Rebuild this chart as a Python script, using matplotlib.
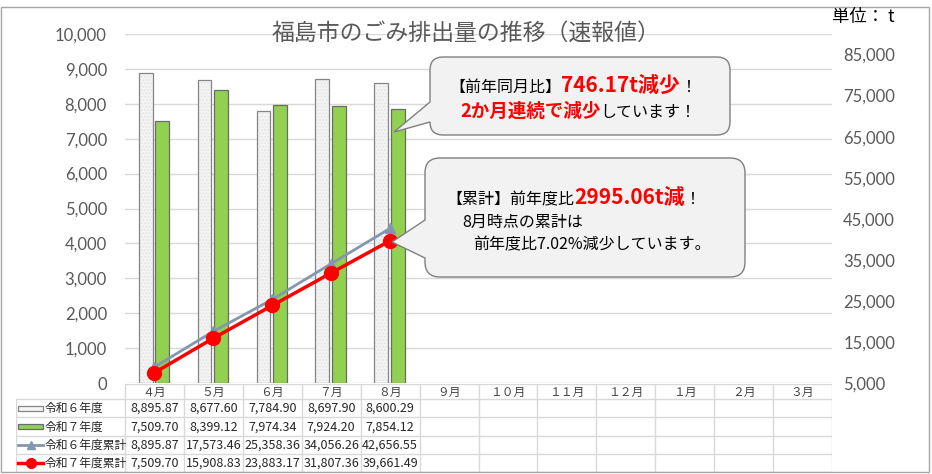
import matplotlib
matplotlib.use('Agg')
import matplotlib.pyplot as plt
import numpy as np
from matplotlib.path import Path
from matplotlib.patches import PathPatch, Rectangle
from matplotlib.lines import Line2D

plt.rcParams['font.family'] = ['Noto Sans CJK JP', 'DejaVu Sans']

# ---------------- data ----------------
months = ['４月', '５月', '６月', '７月', '８月', '９月', '１０月', '１１月', '１２月', '１月', '２月', '３月']
series_names = ['令和６年度', '令和７年度', '令和６年度累計', '令和７年度累計']
r6 = [8895.87, 8677.60, 7784.90, 8697.90, 8600.29]
r7 = [7509.70, 8399.12, 7974.34, 7924.20, 7854.12]
r6_cum = [8895.87, 17573.46, 25358.36, 34056.26, 42656.55]
r7_cum = [7509.70, 15908.83, 23883.17, 31807.36, 39661.49]
left_ticks = list(range(0, 10001, 1000))
right_ticks = list(range(5000, 85001, 10000))
title = '福島市のごみ排出量の推移（速報値）'
unit_label = '単位： t'

W, H = 932, 474
fig = plt.figure(figsize=(W / 100, H / 100), dpi=100)


def fx(px):
    return px / W


def fy(py):
    return 1 - py / H


# ---------------- main axes ----------------
L, R, T, B = 125, 832, 34, 383
colw = (R - L) / 12.0
ax = fig.add_axes([fx(L), fy(B), (R - L) / W, (B - T) / H])
ax.set_xlim(-0.5, 11.5)
ax.set_ylim(0, 10000)
ax.set_yticks(left_ticks)
ax.set_yticklabels([f'{v:,}' for v in left_ticks], fontfamily=['Lato', 'DejaVu Sans'],
                   fontsize=12, color='#595959')
ax.tick_params(axis='y', length=0, pad=13)
ax.set_xticks([])
for s in ax.spines.values():
    s.set_visible(False)
ax.grid(axis='y', color='#d9d9d9', lw=1)
ax.set_axisbelow(True)

x = np.arange(len(r6))
bw = 0.235
ax.bar(x - 0.15, r6, width=bw, color='#f4f4f4', edgecolor='#e6e6e6', lw=0, hatch='.....', zorder=2)
ax.bar(x - 0.15, r6, width=bw, color='none', edgecolor='#858585', lw=0.9, zorder=3)
ax.bar(x + 0.13, r7, width=bw, color='#92d050', edgecolor='#6b6b6b', lw=0.9, zorder=3)

ax2 = ax.twinx()
ax2.set_ylim(5000, 90000)
ax2.set_yticks(right_ticks)
ax2.set_yticklabels([f'{v:,}' for v in right_ticks], fontfamily=['Lato', 'DejaVu Sans'],
                    fontsize=12, color='#595959')
ax2.tick_params(axis='y', length=0, pad=8)
for s in ax2.spines.values():
    s.set_visible(False)
ax2.patch.set_visible(False)
ax2.plot(x, r6_cum, color='#8497b0', lw=2, marker='^', ms=7, zorder=4)
ax2.plot(x, r7_cum, color='#ff0000', lw=2.5, marker='o', ms=10, zorder=5)

# ---------------- data table ----------------
TL, TT, TB = 16, 384, 472
ax_t = fig.add_axes([fx(TL), fy(TB), (R - TL) / W, (TB - TT) / H])
xleft = -0.5 - (L - TL) / colw
ax_t.set_xlim(xleft, 11.5)
ax_t.set_ylim(TB - TT, 0)
ax_t.axis('off')


def tx(px):
    return (px - L) / colw - 0.5


hdr = 15
rowh = (TB - TT - hdr) / 4.0
gc = '#d9d9d9'
ax_t.plot([-0.5, 11.5], [0, 0], color=gc, lw=1)
for i in range(5):
    yy = hdr + i * rowh
    ax_t.plot([xleft, 11.5], [yy, yy], color=gc, lw=1)
for k in range(13):
    ax_t.plot([-0.5 + k, -0.5 + k], [0, TB - TT], color=gc, lw=1)
ax_t.plot([xleft, xleft], [hdr, TB - TT], color=gc, lw=1)

for i, m in enumerate(months):
    ax_t.text(i, hdr / 2 + 0.5, m, ha='center', va='center', fontsize=8.5, color='#404040')

rows = [r6, r7, r6_cum, r7_cum]
for r, vals in enumerate(rows):
    yc = hdr + (r + 0.5) * rowh
    for i, v in enumerate(vals):
        ax_t.text(i, yc + 0.5, f'{v:,.2f}', ha='center', va='center', fontsize=9, color='#262626')
    ax_t.text(tx(45), yc + 0.5, series_names[r], ha='left', va='center', fontsize=8.5, color='#262626')

# legend keys
k0, k1 = tx(18), tx(43)
y0 = hdr + 0.5 * rowh
ax_t.add_patch(Rectangle((k0, y0 - 2.5), k1 - k0, 5, facecolor='#f4f4f4', edgecolor='#858585', lw=0.9))
y1 = hdr + 1.5 * rowh
ax_t.add_patch(Rectangle((k0, y1 - 2.5), k1 - k0, 5, facecolor='#92d050', edgecolor='#6b6b6b', lw=0.9))
y2 = hdr + 2.5 * rowh
ax_t.plot([k0, k1], [y2, y2], color='#8497b0', lw=2)
ax_t.plot([(k0 + k1) / 2], [y2], color='#8497b0', marker='^', ms=6)
y3 = hdr + 3.5 * rowh
ax_t.plot([k0, k1], [y3, y3], color='#ff0000', lw=2.5)
ax_t.plot([(k0 + k1) / 2], [y3], color='#ff0000', marker='o', ms=7)

# ---------------- frame, title ----------------
fig.patches.append(Rectangle((fx(1), fy(472)), (929 - 1) / W, (472 - 7) / H, transform=fig.transFigure,
                             facecolor='none', edgecolor='#a6a6a6', lw=1, zorder=0))
fig.text(fx(466), fy(33), title, ha='center', va='center', fontsize=16.5, color='#595959')
fig.text(fx(832), fy(17), unit_label, ha='left', va='center', fontsize=12.5, color='#000000', zorder=6)


# ---------------- callouts ----------------
def callout(x0, y0, x1, y1, r, a1, a2, tip):
    pts = [((x0 + r, y0), Path.MOVETO),
           ((x1 - r, y0), Path.LINETO),
           ((x1, y0), Path.CURVE3), ((x1, y0 + r), Path.CURVE3),
           ((x1, y1 - r), Path.LINETO),
           ((x1, y1), Path.CURVE3), ((x1 - r, y1), Path.CURVE3),
           ((x0 + r, y1), Path.LINETO),
           ((x0, y1), Path.CURVE3), ((x0, y1 - r), Path.CURVE3),
           ((x0, a2), Path.LINETO),
           (tip, Path.LINETO),
           ((x0, a1), Path.LINETO),
           ((x0, y0 + r), Path.LINETO),
           ((x0, y0), Path.CURVE3), ((x0 + r, y0), Path.CURVE3),
           ((x0 + r, y0), Path.CLOSEPOLY)]
    verts = [(fx(p[0]), fy(p[1])) for p, _ in pts]
    codes = [c for _, c in pts]
    patch = PathPatch(Path(verts, codes), transform=fig.transFigure, facecolor='#f2f2f2',
                      edgecolor='#7f7f7f', lw=1.0, zorder=5)
    fig.patches.append(patch)


callout(430, 57, 730, 135, 13, 102, 122, (394, 132))
callout(425, 158, 745, 277, 15, 220, 258, (392, 242))

renderer = fig.canvas.get_renderer()


def rich(xp, yp, pieces):
    cur = xp
    for s, kw in pieces:
        t = fig.text(fx(cur), fy(yp), s, ha='left', va='baseline', zorder=7, **kw)
        bb = t.get_window_extent(renderer)
        cur += bb.width


blk = dict(fontsize=11.5, color='#000000')
red15 = dict(fontsize=15, color='#ff0000', fontweight='bold')
red13 = dict(fontsize=13.3, color='#ff0000', fontweight='bold')

rich(449, 92, [('【前年同月比】', blk), ('746.17t減少', red15), ('！', blk)])
rich(460, 117, [('2か月連続で減少', red13), ('しています！', blk)])
rich(446, 204, [('【累計】前年度比', blk), ('2995.06t減', red15), ('！', blk)])
rich(462, 227, [('8月時点の累計は', dict(fontsize=11.5, color='#000000'))])
rich(473, 249, [('前年度比7.02%減少しています。', dict(fontsize=11.5, color='#000000'))])

fig.savefig('out.png', dpi=100)
